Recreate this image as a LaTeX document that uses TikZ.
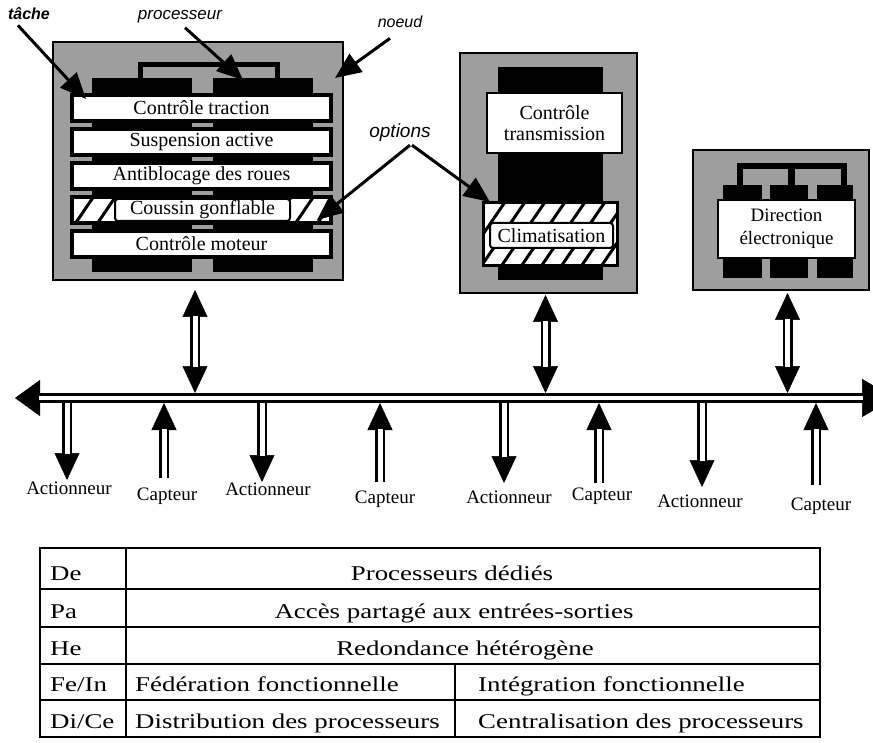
\documentclass[tikz,border=0pt]{standalone}
\usepackage{fontspec}
\setmainfont{Liberation Serif}
\newfontfamily\tabfont[FakeStretch=1.28]{Liberation Serif}
\newfontfamily\callfont{Liberation Sans}
\usetikzlibrary{arrows.meta,calc}
\definecolor{stipple}{gray}{0.62}
\tikzset{
  nodebox/.style={draw, line width=2.5pt, fill=stipple, inner sep=0pt, outer sep=0pt},
  taskrow/.style={draw, line width=4pt, fill=white, inner sep=0pt, outer sep=0pt,
    minimum width=259pt, minimum height=26pt, font=\fontsize{20}{22}\selectfont},
  taskpill/.style={draw, line width=2pt, fill=white, rounded corners=3pt, inner sep=0pt,
    outer sep=0pt, font=\fontsize{20}{22}\selectfont},
  procbox/.style={draw, line width=2pt, fill=white, inner sep=0pt, outer sep=0pt,
    align=center, font=\fontsize{20}{21}\selectfont},
  hatchbox/.style={draw, line width=3pt, fill=white, inner sep=0pt, outer sep=0pt},
  hatchline/.style={line width=3pt},
  callout/.style={font=\callfont\itshape\fontsize{17}{19}\selectfont, inner sep=0pt, anchor=base},
  callarrow/.style={line width=3pt, -{Triangle[width=22pt,length=26pt]}},
  shaft/.style={double, double distance=5pt, line width=2.5pt},
  tipone/.style={line width=0.5pt, -{Triangle[width=25pt,length=27pt]}},
  tiptwo/.style={line width=0.5pt, {Triangle[width=25pt,length=27pt]}-{Triangle[width=25pt,length=27pt]}},
  iolabel/.style={font=\fontsize{19}{21}\selectfont, inner sep=0pt, anchor=base},
  cell/.style={font=\tabfont\fontsize{21}{24}\selectfont, inner sep=0pt, anchor=base},
  cellw/.style={cell, anchor=base west},
  tabline/.style={line width=2pt},
}
\begin{document}
\begin{tikzpicture}[x=1pt,y=-1pt]
\useasboundingbox (0,0) rectangle (873,743);
\clip (0,0) rectangle (873,743);

% ---------- node 1: two processors, five tasks ----------
\node[nodebox, minimum width=290pt, minimum height=238pt] (n1) at (198,161) {};
\draw[line width=5pt] (140.5,80) |- (277.5,64.5) -- (277.5,80);
\fill (92,78) rectangle (192,272);
\fill (213,78) rectangle (313,272);
\node[taskrow] (t1) at (201.5,108) {Contrôle traction};
\node[taskrow] (t2) at (201.5,142) {Suspension active};
\node[taskrow] (t3) at (201.5,176) {Antiblocage des roues};
\node[taskrow] (t4) at (201.5,210) {};
\begin{scope}
  \clip (t4.south west) rectangle (t4.north east);
  \foreach \s in {53,75,...,339} \draw[hatchline] (\s,224) -- ++(19,-28);
\end{scope}
\draw[line width=4pt] (t4.south west) rectangle (t4.north east);
\node[taskpill, minimum width=175pt, minimum height=22pt] (t4c) at (202.5,210) {Coussin gonflable};
\node[taskrow] (t5) at (201.5,244) {Contrôle moteur};

% ---------- node 2: one processor, optional task ----------
\node[nodebox, minimum width=177pt, minimum height=240pt] (n2) at (548.5,173) {};
\fill (498,67) rectangle (603,280);
\node[procbox, minimum width=135pt, minimum height=60pt] (ctrans) at (554.5,123) {Contrôle\\transmission};
\node[hatchbox, minimum width=134pt, minimum height=63pt] (hb) at (550,234.5) {};
\begin{scope}
  \clip (hb.south west) rectangle (hb.north east);
  \foreach \s in {440,460,...,640} \draw[hatchline] (\s,268) -- ++(45,-66);
\end{scope}
\draw[line width=3pt] (hb.south west) rectangle (hb.north east);
\node[taskpill, minimum width=123pt, minimum height=25pt] (clim) at (551.5,235.5) {Climatisation};

% ---------- node 3: three processors, one task ----------
\node[nodebox, minimum width=176pt, minimum height=140pt] (n3) at (781,220) {};
\fill (737,163) rectangle (847,186);
\fill[stipple] (743,169) rectangle (788,186);
\fill[stipple] (795,169) rectangle (841,186);
\fill (723,185) rectangle (762,278);
\fill (770,185) rectangle (808,278);
\fill (817,185) rectangle (853,278);
\node[procbox, minimum width=137pt, minimum height=58pt, font=\fontsize{19}{23}\selectfont] (dir) at (786.5,229) {Direction\\électronique};

% ---------- callouts ----------
\node[callout, font=\callfont\bfseries\itshape\fontsize{16}{18}\selectfont] (ltache) at (29,20) {tâche};
\node[callout] (lproc) at (180,20) {processeur};
\node[callout, font=\callfont\itshape\fontsize{16}{18}\selectfont] (lnoeud) at (400,28) {noeud};
\node[callout, font=\callfont\itshape\fontsize{19}{21}\selectfont] (lopt) at (400,138) {options};

\coordinate (tacheTip) at ([xshift=14pt,yshift=-4pt]t1.north west);
\coordinate (procTip) at (243,80);
\coordinate (noeudTip) at ([xshift=-8pt,yshift=-36pt]n1.north east);
\coordinate (optTipA) at ([xshift=-14pt,yshift=-10pt]t4.east);
\coordinate (optTipB) at ([xshift=7pt,yshift=1pt]hb.north west);

\draw[callarrow] ([xshift=10pt,yshift=-5pt]ltache.south west) -- (tacheTip);
\draw[callarrow] ([xshift=5pt,yshift=-4pt]lproc.south) -- (procTip);
\draw[callarrow] ([xshift=-10pt,yshift=-10pt]lnoeud.south) -- (noeudTip);
\draw[callarrow] ([xshift=10pt,yshift=-3pt]lopt.south) -- (optTipA);
\draw[callarrow] ([xshift=12pt,yshift=-3pt]lopt.south) -- (optTipB);

% ---------- bus ----------
\coordinate (busW) at (15,398);
\coordinate (busE) at (895,398);
\draw[line width=0.5pt, {Triangle[width=36pt,length=25pt]}-{Triangle[width=38pt,length=33pt]}] (busW) -- (busE);
\draw[double, double distance=4pt, line width=3pt, shorten <=24pt, shorten >=32pt] (busW) -- (busE);

% ---------- node to bus links ----------
\coordinate (n1b) at ([xshift=-3pt,yshift=-10pt]n1.south);
\coordinate (n2b) at ([xshift=-3pt,yshift=-2pt]n2.south);
\coordinate (n3b) at ([xshift=6.5pt,yshift=-3pt]n3.south);
\foreach \n in {n1b,n2b,n3b} {
  \coordinate (\n bus) at ($(\n |- busW)+(0,-5)$);
  \draw[tiptwo] (\n) -- (\n bus);
  \draw[shaft, shorten <=26pt, shorten >=26pt] (\n) -- (\n bus);
}

% ---------- actuators and sensors ----------
\foreach \ax/\tip/\lx/\lb [count=\i] in {67/480/69/494, 262/482/268/495, 504/483/509/503, 702/487/700/507} {
  \node[iolabel] (act\i) at (\lx,\lb) {Actionneur};
  \coordinate (actS\i) at (\ax,403);
  \coordinate (actT\i) at (\ax,\tip);
  \draw[tipone] (actS\i) -- (actT\i);
  \draw[shaft, shorten >=26pt] (actS\i) -- (actT\i);
}
\foreach \cx/\bot/\lx/\lb [count=\i] in {164/478/167/500, 380/482/385/503, 599/483/602/500, 816/485/821/510} {
  \node[iolabel] (cap\i) at (\lx,\lb) {Capteur};
  \coordinate (capS\i) at (\cx,\bot);
  \coordinate (capT\i) at (\cx,403);
  \draw[tipone] (capS\i) -- (capT\i);
  \draw[shaft, shorten >=26pt] (capS\i) -- (capT\i);
}

% ---------- table ----------
\draw[tabline] (40,548) rectangle (820,737);
\foreach \y in {589,627,664,700} \draw[tabline] (40,\y) -- (820,\y);
\draw[tabline] (126,548) -- (126,737);
\draw[tabline] (455,664) -- (455,737);

\node[cellw] (kDe) at (50,580) {De};
\node[cellw] (kPa) at (50,618) {Pa};
\node[cellw] (kHe) at (50,655) {He};
\node[cellw] (kFe) at (50,691) {Fe/In};
\node[cellw] (kDi) at (50,728) {Di/Ce};
\node[cell] (vDe) at (452,580) {Processeurs dédiés};
\node[cell] (vPa) at (454,618) {Accès partagé aux entrées-sorties};
\node[cell] (vHe) at (465,655) {Redondance hétérogène};
\node[cellw] (vFe) at (135,691) {Fédération fonctionnelle};
\node[cellw] (vIn) at (478,691) {Intégration fonctionnelle};
\node[cellw] (vDi) at (135,728) {Distribution des processeurs};
\node[cellw] (vCe) at (478,728) {Centralisation des processeurs};
\end{tikzpicture}
\end{document}
